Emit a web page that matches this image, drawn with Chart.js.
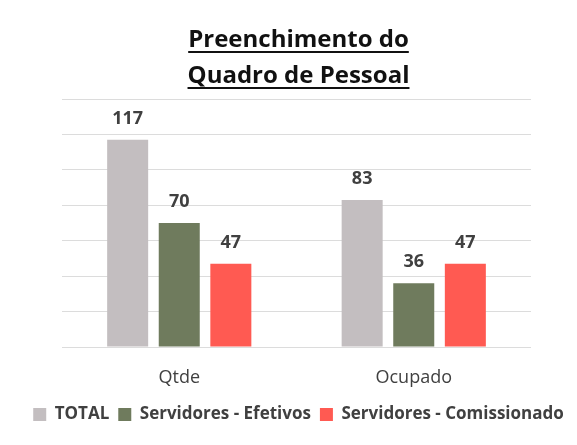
<!DOCTYPE html>
<html><head><meta charset="utf-8">
<script src="https://cdn.jsdelivr.net/npm/chart.js@4"></script>
<style>html,body{margin:0;padding:0;background:#fff}#wrap{width:577px;height:445px}</style>
</head><body><div id="wrap"><canvas id="c" width="577" height="445"></canvas></div>
<script>
const categories = ["Qtde", "Ocupado"];
const seriesNames = ["TOTAL", "Servidores - Efetivos", "Servidores - Comissionado"];
const totalValues = [117, 83];
const efetivosValues = [70, 36];
const comissionadoValues = [47, 47];
const titleLines = ["Preenchimento do", "Quadro de Pessoal"];
const colors = ["#c3bec0", "#6f7b5d", "#ff5a52"];

const FONT = "'Open Sans', Lato, sans-serif";

const valueLabels = {
  id: 'valueLabels',
  afterDatasetsDraw(chart) {
    const ctx = chart.ctx;
    ctx.save();
    ctx.font = "bold 18px " + FONT;
    ctx.fillStyle = "#404040";
    ctx.textAlign = "center";
    ctx.textBaseline = "alphabetic";
    chart.data.datasets.forEach((ds, i) => {
      chart.getDatasetMeta(i).data.forEach((bar, j) => {
        ctx.fillText(String(ds.data[j]), bar.x, bar.y - 16);
      });
    });
    ctx.restore();
  }
};

const underline = {
  id: 'underline',
  afterDraw(chart) {
    const tb = chart.titleBlock;
    if (!tb) return;
    const ctx = chart.ctx;
    const opts = chart.options.plugins.title;
    const size = opts.font.size;
    const lh = size * opts.font.lineHeight;
    ctx.save();
    ctx.font = `${opts.font.weight} ${size}px ${opts.font.family}`;
    ctx.strokeStyle = "#111";
    ctx.lineWidth = 2;
    const cx = (tb.left + tb.right) / 2;
    const top = tb.top + opts.padding.top;
    titleLines.forEach((t, k) => {
      const w = ctx.measureText(t).width;
      const y = Math.round(top + lh * (k + 0.5) + 12);
      ctx.beginPath();
      ctx.moveTo(cx - w / 2, y);
      ctx.lineTo(cx + w / 2, y);
      ctx.stroke();
    });
    ctx.restore();
  }
};

new Chart(document.getElementById('c'), {
  type: 'bar',
  data: {
    labels: categories,
    datasets: [
      { label: seriesNames[0], data: totalValues, backgroundColor: colors[0], yAxisID: 'y' },
      { label: seriesNames[1], data: efetivosValues, backgroundColor: colors[1], yAxisID: 'y' },
      { label: seriesNames[2], data: comissionadoValues, backgroundColor: colors[2], yAxisID: 'y' }
    ]
  },
  options: {
    responsive: false,
    animation: false,
    devicePixelRatio: 1,
    layout: { padding: { left: 20, right: 0, top: 0, bottom: 12 } },
    datasets: { bar: { categoryPercentage: 0.66, barPercentage: 0.795 } },
    scales: {
      x: {
        grid: { display: false },
        border: { display: false },
        ticks: { color: "#404040", font: { family: FONT, size: 18 }, padding: 12 },
        afterFit(s) { s.height = 50; }
      },
      y: {
        min: 0, max: 140,
        ticks: { display: false, stepSize: 20 },
        border: { display: false },
        grid: { color: "#dcdcdc", drawTicks: false },
        afterFit(s) { s.width = 42; }
      },
      yR: {
        position: 'right',
        min: 0, max: 140,
        ticks: { display: false },
        border: { display: false },
        grid: { drawOnChartArea: false, drawTicks: false },
        afterFit(s) { s.width = 46; }
      }
    },
    plugins: {
      title: {
        display: true,
        text: titleLines,
        color: "#111",
        font: { family: FONT, size: 24, weight: 'bold', lineHeight: 1.5 },
        padding: { top: 22, bottom: 5 }
      },
      legend: {
        position: 'bottom',
        labels: {
          color: "#404040",
          font: { family: FONT, size: 17, weight: 'bold' },
          boxWidth: 13, boxHeight: 13, padding: 9
        }
      },
      tooltip: { enabled: false }
    }
  },
  plugins: [valueLabels, underline]
});
</script></body></html>
